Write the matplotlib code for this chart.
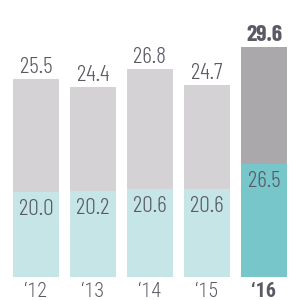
import matplotlib
matplotlib.use("Agg")
import matplotlib.pyplot as plt

years = ["\u201812", "\u201813", "\u201814", "\u201815", "\u201816"]
totals = [25.5, 24.4, 26.8, 24.7, 29.6]
base = [20.0, 20.2, 20.6, 20.6, 26.5]

plt.rcParams['font.family'] = ["Barlow Condensed", "Roboto Condensed", "DejaVu Sans"]
tick_family = ["Roboto Condensed", "DejaVu Sans"]

gray_light = "#d4d2d5"
gray_dark = "#aaa8ab"
teal_light = "#c5e5e6"
teal_dark = "#77c7ca"
txt = "#5a5a64"

fig = plt.figure(figsize=(3, 3), dpi=100)
ax = fig.add_axes([0, 23 / 300, 1, 277 / 300])
ax2 = ax.twinx()

x = list(range(len(years)))
n = len(years)
gcol = [gray_light] * (n - 1) + [gray_dark]
tcol = [teal_light] * (n - 1) + [teal_dark]
w = 46 / 57

ax.bar(x, totals, width=w, color=gcol, zorder=1)
ax2.bar(x, base, width=w, color=tcol, zorder=2)

ax.set_ylim(0, 35.65)
ax2.set_ylim(0, 65.2)
for a in (ax, ax2):
    a.set_xlim(-36 / 57, (300 - 36) / 57)
    for s in a.spines.values():
        s.set_visible(False)
    a.set_yticks([])
    a.patch.set_visible(False)

for i in range(n):
    bold = (i == n - 1)
    ax.annotate(f"{totals[i]:.1f}", (x[i], totals[i]), xytext=(0, 4.3),
                textcoords="offset points", ha="center", va="baseline",
                fontsize=17, color=txt, fontweight="bold" if bold else 300)
    ax2.annotate(f"{base[i]:.1f}", (x[i], base[i]), xytext=(0, -16.4),
                 textcoords="offset points", ha="center", va="baseline",
                 fontsize=17, color=txt, fontweight=300)
    ax.annotate(years[i], (x[i], 0), xytext=(0, -14.5),
                textcoords="offset points", ha="center", va="baseline",
                fontsize=14.5, color=txt, family=tick_family,
                fontweight="bold" if bold else 300,
                annotation_clip=False)

ax.set_xticks([])
ax2.set_xticks([])

fig.savefig("out.png", dpi=100)
